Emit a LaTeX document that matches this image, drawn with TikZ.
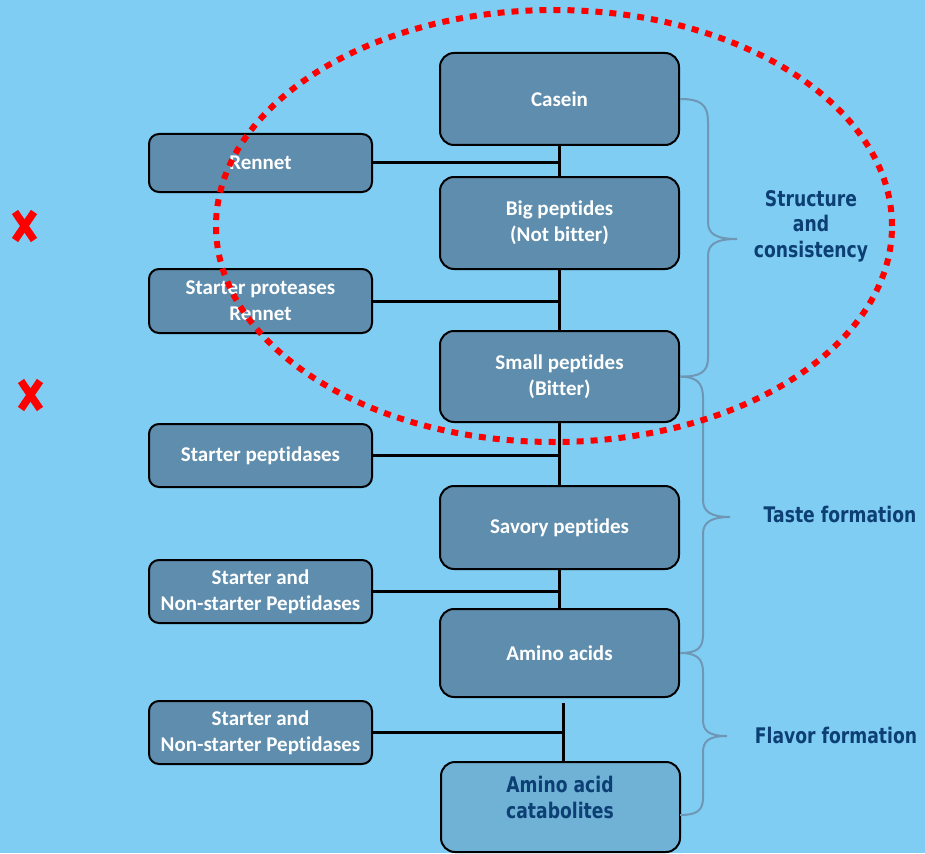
\documentclass[tikz,border=0pt]{standalone}
\usepackage{fontspec}
\setmainfont{Carlito}[Ligatures={NoCommon}]
\newfontfamily\lblfont{DejaVu Sans Bold}[FakeStretch=0.8]
\definecolor{bgblue}{HTML}{80CDF3}
\definecolor{boxfill}{HTML}{5E8DAD}
\definecolor{catabfill}{HTML}{70B1D6}
\definecolor{lbl}{HTML}{0C3F74}
\definecolor{bracec}{HTML}{6E97B5}
\tikzset{
  mainbox/.style={draw=black, line width=2pt, fill=boxfill, rounded corners=14pt,
    minimum width=239pt, inner sep=0pt, align=center, text=white,
    font=\bfseries\fontsize{21}{26}\selectfont},
  sidebox/.style={draw=black, line width=2pt, fill=boxfill, rounded corners=10pt,
    minimum width=223pt, inner sep=0pt, align=center, text=white,
    font=\bfseries\fontsize{21}{26}\selectfont},
  conn/.style={draw=black, line width=3pt},
  bracel/.style={draw=bracec, line width=2pt},
  lbltext/.style={text=lbl, align=center, inner sep=0pt, font=\lblfont\fontsize{21.5}{25.5}\selectfont},
  redx/.style={draw=red, line width=7.5pt}
}
\begin{document}
\begin{tikzpicture}[x=1pt,y=-1pt]
\useasboundingbox (0,0) rectangle (925,853);
\fill[bgblue] (0,0) rectangle (925,853);

% main column
\node[mainbox, minimum height=92pt] (casein) at (559.5,99) {Casein};
\node[mainbox, minimum height=92pt] (big) at (559.5,223) {Big peptides\\(Not bitter)};
\node[mainbox, minimum height=91pt] (small) at (559.5,376.5) {Small peptides\\(Bitter)};
\node[mainbox, minimum height=83pt] (savory) at (559.5,527.5) {Savory peptides};
\node[mainbox, minimum height=88pt] (amino) at (559.5,653) {Amino acids};
\node[mainbox, fill=catabfill, minimum height=90pt] (catab) at (560.5,807) {};
\node[lbltext] (catabtxt) at (560,797.5) {Amino acid\\catabolites};

% side boxes
\node[sidebox, minimum height=58pt] (rennet) at (260.5,163) {Rennet};
\node[sidebox, minimum height=64pt] (prot) at (260.5,301) {Starter proteases\\Rennet};
\node[sidebox, minimum height=63pt] (pept) at (260.5,455.5) {Starter peptidases};
\node[sidebox, minimum height=63pt] (nsp1) at (260.5,591.5) {Starter and\\Non-starter Peptidases};
\node[sidebox, minimum height=63pt] (nsp2) at (260.5,732.5) {Starter and\\Non-starter Peptidases};

% connectors
\draw[conn] (casein.south) -- (big.north);
\draw[conn] (rennet.east) -- (rennet.east -| casein.south);
\draw[conn] (big.south) -- (small.north);
\draw[conn] (prot.east) -- (prot.east -| big.south);
\draw[conn] (small.south) -- (savory.north);
\draw[conn] (pept.east) -- (pept.east -| small.south);
\draw[conn] (savory.south) -- (amino.north);
\draw[conn] (nsp1.east) -- (nsp1.east -| savory.south);
\coordinate (aatop) at (563,703);
\draw[conn] (aatop) -- (catab.north -| aatop);
\draw[conn] (nsp2.east) -- (nsp2.east -| aatop);

% braces
\coordinate (b3end) at (680,815);
\draw[bracel] (casein.east) .. controls (700,99) and (708,104) .. (708,122)
  -- (708,222) .. controls (708,234) and (716,239) .. (737,239)
  .. controls (716,239) and (708,244) .. (708,256)
  -- (708,358) .. controls (708,372) and (700,377) .. (small.east);
\draw[bracel] (small.east) .. controls (696,377) and (703,382) .. (703,398)
  -- (703,500) .. controls (703,511) and (710,517) .. (730,517)
  .. controls (710,517) and (703,523) .. (703,534)
  -- (703,635) .. controls (703,649) and (696,653) .. (amino.east);
\draw[bracel] (amino.east) .. controls (696,653) and (703,658) .. (703,672)
  -- (703,720) .. controls (703,731) and (709,736) .. (727,736)
  .. controls (709,736) and (703,741) .. (703,752)
  -- (703,798) .. controls (703,811) and (696,815) .. (b3end);

% labels
\node[lbltext] (struct) at (811,226) {Structure\\and\\consistency};
\node[lbltext] (taste) at (840,514) {Taste formation};
\node[lbltext] (flavor) at (836,735) {Flavor formation};

% red dotted ellipse
\draw[red, line width=6pt, dash pattern=on 7pt off 7pt] (554,226) ellipse [x radius=338pt, y radius=216pt];

% red crosses
\draw[redx] (15,212) -- (34,240) (34,212) -- (15,240);
\draw[redx] (21,381) -- (40,409) (40,381) -- (21,409);
\end{tikzpicture}
\end{document}
